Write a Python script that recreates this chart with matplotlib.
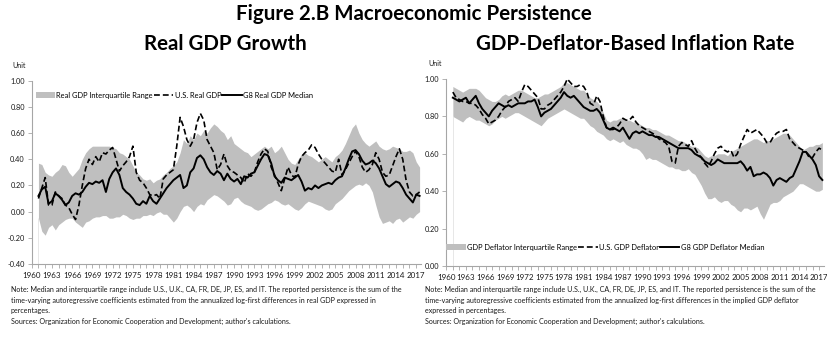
"""
Figure 2.B Macroeconomic Persistence: two-panel reproduction
(real GDP growth persistence, GDP-deflator inflation persistence).
"""
import numpy as np
import matplotlib
matplotlib.use("Agg")
import matplotlib.pyplot as plt
from matplotlib.patches import Patch
from matplotlib.lines import Line2D

plt.rcParams["font.family"] = ["Lato", "DejaVu Sans"]

# semi-annual observations, 1961.0 .. 2017.5
years = np.arange(1961.0, 2018.0, 0.5)

# ---- left panel: real GDP growth persistence
gdp_iqr_high = [
    0.37, 0.36, 0.30, 0.28, 0.27, 0.30, 0.32, 0.36, 0.35, 0.30,
    0.27, 0.30, 0.33, 0.40, 0.45, 0.48, 0.50, 0.50, 0.50, 0.50,
    0.50, 0.50, 0.49, 0.48, 0.45, 0.44, 0.42, 0.40, 0.35, 0.30,
    0.28, 0.25, 0.24, 0.25, 0.22, 0.24, 0.25, 0.28, 0.30, 0.33,
    0.35, 0.38, 0.45, 0.55, 0.52, 0.58, 0.55, 0.60, 0.58, 0.62,
    0.60, 0.64, 0.67, 0.65, 0.62, 0.60, 0.55, 0.58, 0.52, 0.50,
    0.48, 0.46, 0.45, 0.42, 0.44, 0.46, 0.48, 0.50, 0.48, 0.50,
    0.45, 0.47, 0.50, 0.45, 0.40, 0.37, 0.36, 0.40, 0.44, 0.45,
    0.43, 0.42, 0.40, 0.38, 0.40, 0.42, 0.40, 0.38, 0.42, 0.44,
    0.47, 0.52, 0.58, 0.64, 0.67, 0.60, 0.55, 0.52, 0.50, 0.52,
    0.54, 0.50, 0.48, 0.47, 0.48, 0.50, 0.49, 0.48, 0.46, 0.46,
    0.47, 0.45, 0.38, 0.34,
]
gdp_iqr_low = [
    -0.05, -0.15, -0.18, -0.12, -0.10, -0.14, -0.10, -0.08, -0.06, -0.05,
    -0.05, -0.08, -0.10, -0.12, -0.08, -0.07, -0.05, -0.04, -0.04, -0.03,
    -0.03, -0.05, -0.05, -0.04, -0.04, -0.02, -0.03, -0.05, -0.06, -0.05,
    -0.05, -0.03, -0.03, -0.02, -0.03, -0.01, 0.00, -0.02, -0.02, -0.05,
    -0.08, -0.05, 0.00, 0.04, 0.05, 0.03, 0.00, 0.04, 0.06, 0.05,
    0.09, 0.11, 0.13, 0.12, 0.10, 0.08, 0.05, 0.06, 0.10, 0.11,
    0.08, 0.06, 0.05, 0.04, 0.02, 0.01, 0.02, 0.04, 0.06, 0.07,
    0.09, 0.08, 0.06, 0.05, 0.06, 0.04, 0.02, 0.01, 0.03, 0.06,
    0.08, 0.07, 0.06, 0.05, 0.04, 0.02, 0.01, 0.02, 0.06, 0.08,
    0.10, 0.13, 0.16, 0.18, 0.20, 0.21, 0.20, 0.22, 0.20, 0.15,
    0.05, -0.04, -0.09, -0.08, -0.07, -0.09, -0.06, -0.05, -0.08, -0.06,
    -0.04, -0.05, -0.02, 0.00,
]
us_gdp = [
    0.10, 0.18, 0.26, 0.05, 0.05, 0.15, 0.12, 0.10, 0.05, 0.03,
    -0.02, -0.06, 0.05, 0.20, 0.33, 0.40, 0.36, 0.42, 0.38, 0.45,
    0.44, 0.47, 0.49, 0.40, 0.31, 0.35, 0.38, 0.42, 0.50, 0.30,
    0.24, 0.22, 0.18, 0.13, 0.12, 0.13, 0.10, 0.25, 0.28, 0.30,
    0.32, 0.50, 0.72, 0.65, 0.55, 0.50, 0.55, 0.68, 0.75, 0.70,
    0.55, 0.50, 0.45, 0.32, 0.36, 0.44, 0.35, 0.31, 0.30, 0.28,
    0.26, 0.22, 0.29, 0.27, 0.30, 0.38, 0.44, 0.48, 0.46, 0.34,
    0.28, 0.22, 0.16, 0.25, 0.34, 0.28, 0.26, 0.36, 0.42, 0.45,
    0.47, 0.51, 0.49, 0.44, 0.40, 0.37, 0.34, 0.31, 0.30, 0.40,
    0.28, 0.32, 0.37, 0.42, 0.46, 0.42, 0.34, 0.30, 0.32, 0.36,
    0.45, 0.40, 0.30, 0.27, 0.28, 0.35, 0.42, 0.48, 0.40, 0.24,
    0.15, 0.12, 0.13, 0.15,
]
g8_gdp = [
    0.12, 0.17, 0.19, 0.06, 0.08, 0.14, 0.12, 0.09, 0.05, 0.07,
    0.12, 0.14, 0.13, 0.15, 0.19, 0.22, 0.21, 0.23, 0.22, 0.24,
    0.15, 0.25, 0.30, 0.33, 0.28, 0.18, 0.15, 0.13, 0.10, 0.06,
    0.05, 0.08, 0.06, 0.12, 0.08, 0.06, 0.10, 0.14, 0.18, 0.21,
    0.24, 0.26, 0.28, 0.18, 0.20, 0.30, 0.33, 0.41, 0.43, 0.40,
    0.34, 0.30, 0.28, 0.31, 0.29, 0.24, 0.29, 0.25, 0.23, 0.25,
    0.21, 0.27, 0.26, 0.29, 0.30, 0.35, 0.40, 0.44, 0.43, 0.37,
    0.27, 0.24, 0.22, 0.26, 0.25, 0.24, 0.26, 0.28, 0.23, 0.16,
    0.18, 0.17, 0.20, 0.18, 0.20, 0.21, 0.22, 0.21, 0.24, 0.26,
    0.27, 0.33, 0.40, 0.46, 0.47, 0.44, 0.39, 0.36, 0.37, 0.39,
    0.37, 0.33, 0.27, 0.21, 0.19, 0.21, 0.23, 0.22, 0.18, 0.13,
    0.10, 0.07, 0.13, 0.12,
]

# ---- right panel: GDP-deflator inflation persistence
defl_iqr_high = [
    0.96, 0.95, 0.94, 0.93, 0.94, 0.95, 0.95, 0.95, 0.94, 0.92,
    0.90, 0.89, 0.88, 0.88, 0.89, 0.91, 0.92, 0.91, 0.92, 0.93,
    0.94, 0.94, 0.93, 0.92, 0.91, 0.90, 0.90, 0.91, 0.92, 0.92,
    0.93, 0.94, 0.95, 0.96, 0.98, 0.98, 0.97, 0.96, 0.95, 0.94,
    0.94, 0.92, 0.90, 0.89, 0.88, 0.86, 0.82, 0.78, 0.77, 0.78,
    0.78, 0.79, 0.79, 0.78, 0.78, 0.77, 0.77, 0.76, 0.75, 0.74,
    0.74, 0.73, 0.73, 0.72, 0.71, 0.70, 0.70, 0.69, 0.68, 0.67,
    0.67, 0.66, 0.65, 0.64, 0.64, 0.63, 0.61, 0.59, 0.58, 0.59,
    0.59, 0.60, 0.60, 0.60, 0.59, 0.61, 0.62, 0.63, 0.64, 0.65,
    0.66, 0.67, 0.68, 0.68, 0.67, 0.66, 0.67, 0.67, 0.68, 0.69,
    0.70, 0.71, 0.71, 0.70, 0.68, 0.66, 0.64, 0.62, 0.63, 0.64,
    0.64, 0.65, 0.65, 0.66,
]
defl_iqr_low = [
    0.80, 0.79, 0.78, 0.77, 0.79, 0.80, 0.79, 0.78, 0.78, 0.77,
    0.76, 0.75, 0.76, 0.78, 0.79, 0.80, 0.79, 0.80, 0.81, 0.82,
    0.82, 0.81, 0.80, 0.79, 0.78, 0.77, 0.76, 0.75, 0.77, 0.79,
    0.80, 0.81, 0.82, 0.83, 0.84, 0.83, 0.82, 0.81, 0.80, 0.79,
    0.79, 0.77, 0.75, 0.74, 0.72, 0.71, 0.70, 0.68, 0.67, 0.68,
    0.67, 0.66, 0.67, 0.65, 0.64, 0.63, 0.63, 0.62, 0.60, 0.57,
    0.58, 0.57, 0.57, 0.56, 0.55, 0.54, 0.53, 0.53, 0.52, 0.52,
    0.51, 0.51, 0.52, 0.50, 0.49, 0.46, 0.43, 0.39, 0.36, 0.36,
    0.37, 0.35, 0.34, 0.35, 0.35, 0.33, 0.32, 0.30, 0.29, 0.31,
    0.31, 0.30, 0.31, 0.32, 0.28, 0.25, 0.29, 0.33, 0.34, 0.34,
    0.35, 0.37, 0.38, 0.39, 0.40, 0.42, 0.44, 0.44, 0.43, 0.42,
    0.41, 0.40, 0.40, 0.41,
]
us_defl = [
    0.93, 0.90, 0.89, 0.88, 0.88, 0.87, 0.87, 0.86, 0.84, 0.81,
    0.79, 0.76, 0.77, 0.78, 0.80, 0.83, 0.85, 0.88, 0.89, 0.90,
    0.88, 0.93, 0.97, 0.96, 0.94, 0.92, 0.90, 0.84, 0.84, 0.86,
    0.87, 0.89, 0.91, 0.93, 0.96, 1.00, 0.98, 0.96, 0.96, 0.97,
    0.96, 0.93, 0.87, 0.86, 0.91, 0.88, 0.80, 0.74, 0.73, 0.73,
    0.74, 0.76, 0.79, 0.78, 0.78, 0.80, 0.77, 0.75, 0.74, 0.73,
    0.72, 0.71, 0.70, 0.68, 0.67, 0.66, 0.64, 0.56, 0.55, 0.64,
    0.66, 0.65, 0.64, 0.67, 0.63, 0.60, 0.58, 0.55, 0.53, 0.56,
    0.60, 0.63, 0.64, 0.62, 0.61, 0.62, 0.58, 0.60, 0.65, 0.69,
    0.73, 0.71, 0.72, 0.73, 0.71, 0.69, 0.66, 0.66, 0.69, 0.71,
    0.72, 0.72, 0.73, 0.68, 0.66, 0.64, 0.63, 0.62, 0.61, 0.58,
    0.58, 0.61, 0.63, 0.62,
]
g8_defl = [
    0.90, 0.89, 0.88, 0.89, 0.90, 0.87, 0.89, 0.91, 0.87, 0.84,
    0.82, 0.80, 0.83, 0.85, 0.87, 0.86, 0.85, 0.86, 0.85, 0.86,
    0.87, 0.87, 0.87, 0.88, 0.88, 0.89, 0.85, 0.80, 0.82, 0.83,
    0.84, 0.86, 0.88, 0.90, 0.93, 0.91, 0.90, 0.91, 0.89, 0.87,
    0.85, 0.84, 0.83, 0.83, 0.84, 0.82, 0.78, 0.74, 0.73, 0.74,
    0.73, 0.72, 0.74, 0.71, 0.68, 0.71, 0.72, 0.71, 0.72, 0.71,
    0.70, 0.70, 0.69, 0.69, 0.68, 0.67, 0.66, 0.65, 0.64, 0.63,
    0.63, 0.63, 0.63, 0.62, 0.60, 0.59, 0.58, 0.56, 0.55, 0.54,
    0.55, 0.57, 0.56, 0.55, 0.55, 0.55, 0.55, 0.55, 0.56, 0.54,
    0.51, 0.53, 0.48, 0.49, 0.49, 0.50, 0.49, 0.47, 0.43, 0.46,
    0.47, 0.46, 0.45, 0.47, 0.48, 0.52, 0.56, 0.61, 0.61, 0.59,
    0.57, 0.54, 0.48, 0.46,
]

tick_years = list(range(1960, 2018, 3))

note_gdp = ("Note: Median and interquartile range include U.S., U.K., CA, FR, DE, JP, ES, and IT. "
            "The reported persistence is the sum of the\ntime-varying autoregressive coefficients "
            "estimated from the annualized log-first differences in real GDP expressed in\npercentages.\n"
            "Sources: Organization for Economic Cooperation and Development; author's calculations.")
note_defl = ("Note: Median and interquartile range include U.S., U.K., CA, FR, DE, JP, ES, and IT. "
             "The reported persistence is the sum of the\ntime-varying autoregressive coefficients "
             "estimated from the annualized log-first differences in the implied GDP deflator\n"
             "expressed in percentages.\n"
             "Sources: Organization for Economic Cooperation and Development; author's calculations.")

BAND = "#bfbfbf"
AXIS = "#a6a6a6"
TXT = "#1a1a1a"
W, H = 828, 339


def style_axis(ax, ylo, yhi):
    ax.set_xlim(1960, 2017.7)
    ax.set_ylim(ylo, yhi)
    ax.set_yticks(np.arange(ylo, yhi + 0.001, 0.2))
    ax.yaxis.set_major_formatter(matplotlib.ticker.FormatStrFormatter("%.2f"))
    ax.set_xticks(tick_years)
    ax.set_xticks(range(1960, 2018), minor=True)
    for s in ("top", "right"):
        ax.spines[s].set_visible(False)
    for s in ("left", "bottom"):
        ax.spines[s].set_color(AXIS)
        ax.spines[s].set_linewidth(0.8)
    ax.tick_params(axis="both", which="both", direction="out", color=AXIS,
                   labelcolor=TXT, width=0.6)
    ax.tick_params(axis="y", length=3, pad=2, labelsize=5.3)
    ax.tick_params(axis="x", which="major", length=3, pad=2.5, labelsize=5.8)
    ax.tick_params(axis="x", which="minor", length=3)


def draw_panel(ax, lo, hi, us, g8, ylo, yhi, labels, legend_anchor):
    ax.fill_between(years, lo, hi, color=BAND, lw=0, zorder=1)
    ax.vlines(years[0], ylo, lo[0], color="#e3e3e3", lw=0.6, zorder=1)
    ax.plot(years, us, color="black", lw=1.2, ls=(0, (3.5, 1.8)), zorder=3)
    ax.plot(years, g8, color="black", lw=1.4, zorder=4)
    style_axis(ax, ylo, yhi)
    handles = [
        Patch(facecolor=BAND, edgecolor="none"),
        Line2D([], [], color="black", lw=1.2, ls=(0, (3.5, 1.8))),
        Line2D([], [], color="black", lw=1.4),
    ]
    ax.legend(handles, labels, ncol=3, loc="upper left", bbox_to_anchor=legend_anchor,
              frameon=False, fontsize=5.4, handlelength=2.6, handleheight=0.9,
              handletextpad=0.15, columnspacing=0.15, borderaxespad=0, borderpad=0)


fig = plt.figure(figsize=(W / 100, H / 100), dpi=100)

# pixel-based placement of the two plot areas
ax1 = fig.add_axes([31.7 / W, 1 - 264 / H, 57.7 * 6.746 / W, (264 - 80.7) / H])
ax2 = fig.add_axes([446.3 / W, 1 - 266 / H, 57.7 * 6.54 / W, (266 - 79) / H])

draw_panel(ax1, gdp_iqr_low, gdp_iqr_high, us_gdp, g8_gdp, -0.4, 1.0,
           ["Real GDP Interquartile Range", "U.S. Real GDP", "G8 Real GDP Median"],
           (0.01, 0.94))
draw_panel(ax2, defl_iqr_low, defl_iqr_high, us_defl, g8_defl, 0.0, 1.0,
           ["GDP Deflator Interquartile Range", "U.S. GDP Deflator", "G8 GDP Deflator Median"],
           (0.0, 0.12))

fig.text(0.5, 1 - 14 / H, "Figure 2.B Macroeconomic Persistence", ha="center", va="center",
         fontsize=14.8, fontweight="bold", color="black")
fig.text(225 / W, 1 - 44 / H, "Real GDP Growth", ha="center", va="center",
         fontsize=14.8, fontweight="bold", color="black")
fig.text(635 / W, 1 - 44 / H, "GDP-Deflator-Based Inflation Rate", ha="center", va="center",
         fontsize=14.8, fontweight="bold", color="black")
fig.text(12 / W, 1 - 65 / H, "Unit", fontsize=5, color=TXT, va="center")
fig.text(428 / W, 1 - 64 / H, "Unit", fontsize=5, color=TXT, va="center")

fig.text(11 / W, 1 - 286 / H, note_gdp, fontsize=5.1, color=TXT, va="top", linespacing=1.6)
fig.text(425 / W, 1 - 286 / H, note_defl, fontsize=5.1, color=TXT, va="top", linespacing=1.6)

fig.savefig("out.png", dpi=100, facecolor="white")
